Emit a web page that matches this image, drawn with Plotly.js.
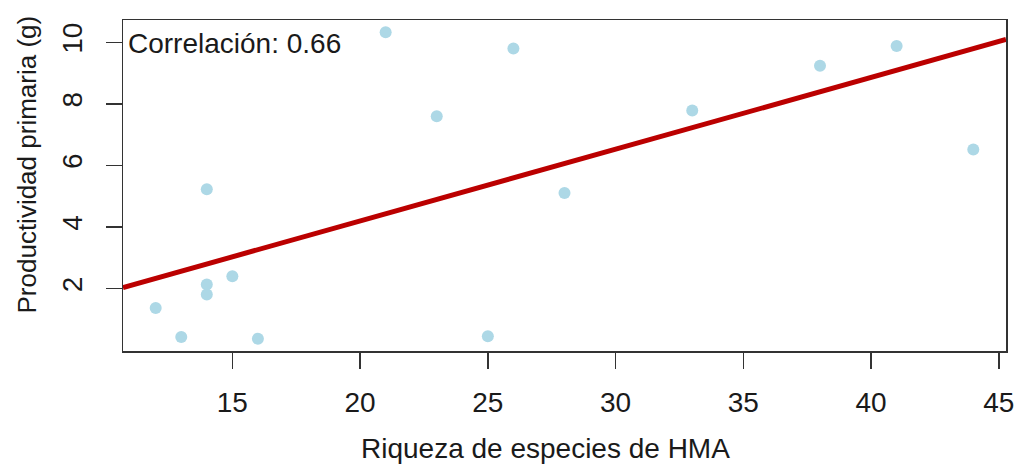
<!DOCTYPE html>
<html>
<head>
<meta charset="utf-8">
<script src="https://cdn.plot.ly/plotly-3.0.1.min.js"></script>
<style>html,body{margin:0;padding:0;background:#fff;}#chart{width:1017px;height:464px;}</style>
</head>
<body>
<div id="chart"></div>
<script>
// Data
const riqueza = [12, 13, 14, 14, 14, 15, 16, 21, 23, 25, 26, 28, 33, 38, 41, 44];
const productividad = [1.37, 0.43, 5.23, 2.13, 1.81, 2.40, 0.37, 10.33, 7.60, 0.45, 9.80, 5.11, 7.79, 9.24, 9.88, 6.52];
const xTicks = [15, 20, 25, 30, 35, 40, 45];
const yTicks = [2, 4, 6, 8, 10];
const xTitle = "Riqueza de especies de HMA";
const yTitle = "Productividad primaria (g)";
const corrLabel = "Correlación: ";

// R-style axis ranges (4% extension)
function rRange(v) {
  const mn = Math.min(...v), mx = Math.max(...v), d = (mx - mn) * 0.04;
  return [mn - d, mx + d];
}
const xr = rRange(riqueza), yr = rRange(productividad);

// Least squares fit and correlation
const n = riqueza.length;
const mx = riqueza.reduce((a, b) => a + b, 0) / n;
const my = productividad.reduce((a, b) => a + b, 0) / n;
let sxy = 0, sxx = 0, syy = 0;
for (let i = 0; i < n; i++) {
  const dx = riqueza[i] - mx, dy = productividad[i] - my;
  sxy += dx * dy; sxx += dx * dx; syy += dy * dy;
}
const slope = sxy / sxx, intercept = my - slope * mx;
const r = sxy / Math.sqrt(sxx * syy);
const fitX = xr.slice();
const fitY = fitX.map(x => intercept + slope * x);

const font = {family: "Liberation Sans, Arial, sans-serif", size: 28, color: "#1a1a1a"};
const yFont = {family: "Liberation Sans, Arial, sans-serif", size: 26, color: "#1a1a1a"};

const traces = [
  {x: riqueza, y: productividad, type: "scatter", mode: "markers",
   marker: {color: "#add8e6", size: 12}, hoverinfo: "x+y"},
  {x: fitX, y: fitY, type: "scatter", mode: "lines",
   line: {color: "#bb0000", width: 5}, hoverinfo: "skip"}
];

const layout = {
  width: 1017, height: 464,
  margin: {l: 123, r: 11, t: 20, b: 113},
  paper_bgcolor: "#fff", plot_bgcolor: "#fff",
  showlegend: false,
  font: font,
  xaxis: {
    range: xr, tickvals: xTicks, ticktext: xTicks.map(String),
    showgrid: false, zeroline: false, showline: true, mirror: true,
    linecolor: "#333", linewidth: 1.5,
    ticks: "outside", ticklen: 16, tickwidth: 1.5, tickcolor: "#333",
    ticklabelstandoff: 10,
    tickfont: font
  },
  yaxis: {
    range: yr, tickvals: yTicks, ticktext: yTicks.map(String),
    showgrid: false, zeroline: false, showline: true, mirror: true,
    linecolor: "#333", linewidth: 1.5,
    ticks: "outside", ticklen: 16, tickwidth: 1.5, tickcolor: "#333",
    tickangle: -90, ticklabelstandoff: 12,
    tickfont: font
  },
  annotations: [
    {xref: "paper", yref: "paper", x: 0, y: 0.928, xanchor: "left", yanchor: "middle",
     xshift: 3, showarrow: false, text: corrLabel + r.toFixed(2), font: font},
    {xref: "paper", yref: "paper", x: 0, y: 0.5, xanchor: "center", yanchor: "middle",
     xshift: -97, yshift: 21, textangle: -90, showarrow: false, text: yTitle, font: yFont},
    {xref: "paper", yref: "paper", x: 0.479, y: 0, xanchor: "center", yanchor: "middle",
     yshift: -97, showarrow: false, text: xTitle, font: font}
  ]
};

Plotly.newPlot("chart", traces, layout, {displayModeBar: false, staticPlot: true});
</script>
</body>
</html>
